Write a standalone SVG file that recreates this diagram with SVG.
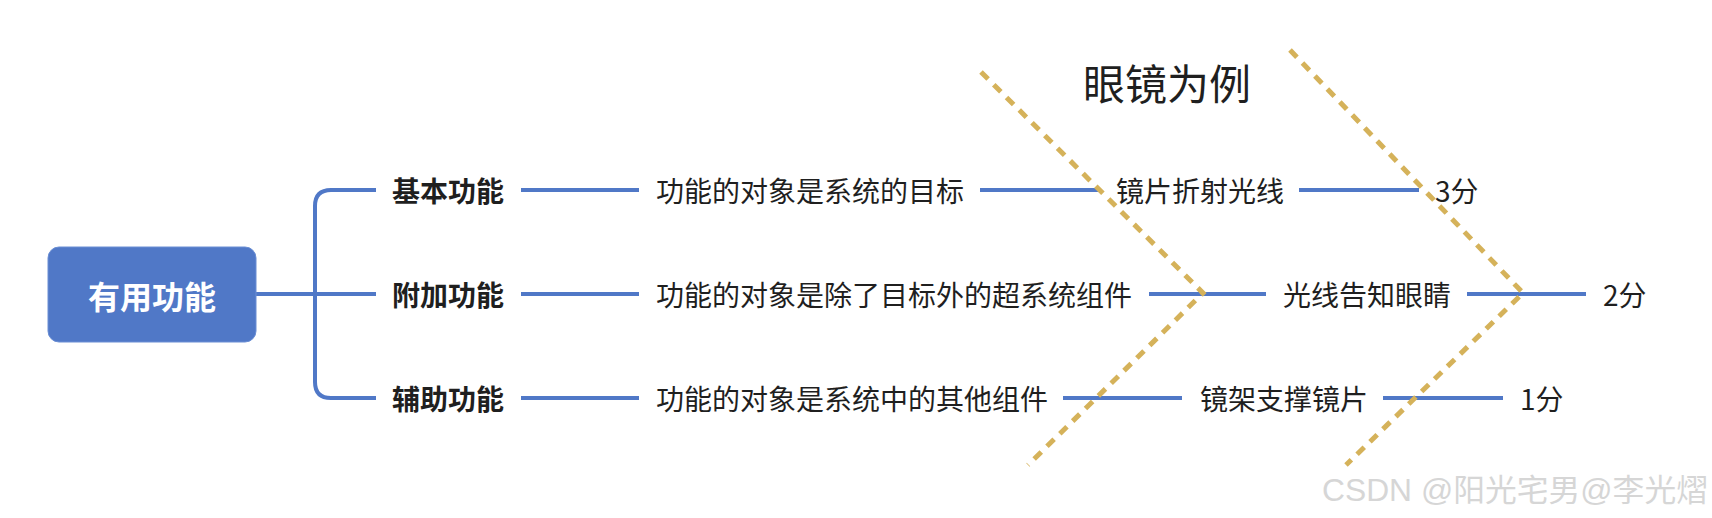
<svg xmlns="http://www.w3.org/2000/svg" width="1712" height="518" viewBox="0 0 1712 518">
  <style>
    .t { font-family: "Noto Sans CJK SC", "Noto Sans", sans-serif; font-size: 28px; fill: #1f1f1f; dominant-baseline: central; }
    .b { font-weight: 700; }
    .link { fill: none; stroke: #5078c7; stroke-width: 4; }
    .dash { fill: none; stroke: #d5b25a; stroke-width: 5; stroke-dasharray: 10 8; }
  </style>
  <rect width="1712" height="518" fill="#ffffff"/>

  <g id="connectors">
    <path class="link" d="M256,294 H376"/>
    <path class="link" d="M376,190 H331 Q315,190 315,206 V382 Q315,398 331,398 H376"/>
    <path class="link" d="M521,190 H639 M980,190 H1099 M1299,190 H1419"/>
    <path class="link" d="M521,294 H639 M1149,294 H1266 M1467,294 H1586"/>
    <path class="link" d="M521,398 H639 M1063,398 H1182 M1383,398 H1503"/>
  </g>

  <g id="guides">
    <polyline class="dash" points="981,72 1203,293 1028,465"/>
    <polyline class="dash" points="1290,50 1523,293 1346,465"/>
  </g>

  <g id="title">
    <text class="t" x="1083" y="81" style="font-size:42px">眼镜为例</text>
  </g>

  <g id="root">
    <rect x="48" y="247" width="208" height="95" rx="11" fill="#5078c7" stroke="#6a8ed4" stroke-width="1"/>
    <text class="t b" x="152" y="295" text-anchor="middle" style="font-size:32px;fill:#ffffff">有用功能</text>
  </g>

  <g id="node-basic"><text class="t b" x="392" y="190">基本功能</text></g>
  <g id="node-extra"><text class="t b" x="392" y="294">附加功能</text></g>
  <g id="node-aux"><text class="t b" x="392" y="398">辅助功能</text></g>

  <g id="desc-basic"><text class="t" x="656" y="190">功能的对象是系统的目标</text></g>
  <g id="desc-extra"><text class="t" x="656" y="294">功能的对象是除了目标外的超系统组件</text></g>
  <g id="desc-aux"><text class="t" x="656" y="398">功能的对象是系统中的其他组件</text></g>

  <g id="ex-basic"><text class="t" x="1116" y="190">镜片折射光线</text></g>
  <g id="ex-extra"><text class="t" x="1283" y="294">光线告知眼睛</text></g>
  <g id="ex-aux"><text class="t" x="1200" y="398">镜架支撑镜片</text></g>

  <g id="score-basic"><text class="t" x="1435" y="190">3分</text></g>
  <g id="score-extra"><text class="t" x="1603" y="294">2分</text></g>
  <g id="score-aux"><text class="t" x="1520" y="398">1分</text></g>

  <g id="watermark">
    <text x="1322" y="490" textLength="386" lengthAdjust="spacingAndGlyphs" style="font-family:'Liberation Sans','Noto Sans CJK SC',sans-serif;font-size:31px;fill:#d6d6d6;dominant-baseline:central">CSDN @阳光宅男@李光熠</text>
  </g>
</svg>
